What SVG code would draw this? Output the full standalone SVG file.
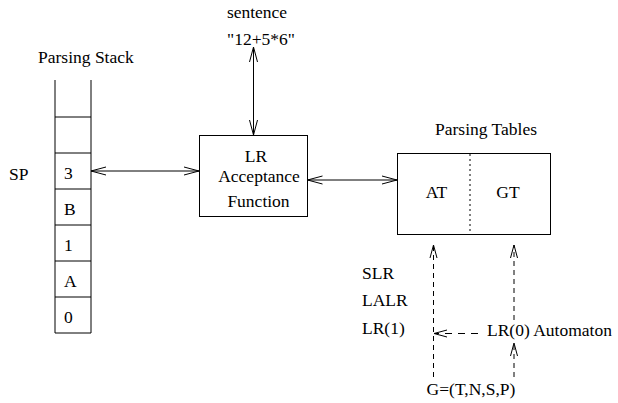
<svg xmlns="http://www.w3.org/2000/svg" width="618" height="403" viewBox="0 0 618 403">
<style>
text{font-family:"Liberation Serif","Times New Roman",serif;font-size:17.5px;fill:#000}
.c{text-anchor:middle}
.ln{stroke:#000;stroke-width:1;fill:none}
.d{stroke-dasharray:5,4}
</style>
<defs>
<marker id="a" markerUnits="userSpaceOnUse" markerWidth="18" markerHeight="12" refX="15" refY="6" orient="auto-start-reverse">
<path d="M0,2 L15,6 L0,10" fill="none" stroke="#000" stroke-width="1"/>
</marker>
<marker id="b" markerUnits="userSpaceOnUse" markerWidth="16" markerHeight="10" refX="13" refY="5" orient="auto-start-reverse">
<path d="M0,1.5 L13,5 L0,8.5" fill="none" stroke="#000" stroke-width="1"/>
</marker>
</defs>
<rect width="618" height="403" fill="#fff"/>
<g id="stack">
<text x="38" y="63">Parsing Stack</text>
<text x="9" y="180">SP</text>
<path class="ln" d="M55,80 V333 H91 V80 M55,117 H91 M55,153 H91 M55,189 H91 M55,225 H91 M55,261 H91 M55,297 H91"/>
<text x="64" y="179">3</text>
<text x="64" y="215">B</text>
<text x="64" y="251">1</text>
<text x="64" y="287">A</text>
<text x="64" y="323">0</text>
</g>
<g id="sentence">
<text class="c" x="257" y="18">sentence</text>
<text class="c" x="261" y="45">"12+5*6"</text>
</g>
<g id="lrfunc">
<rect class="ln" x="199.5" y="135.5" width="108" height="81"/>
<text class="c" x="256" y="161.5">LR</text>
<text class="c" x="259" y="181.5">Acceptance</text>
<text class="c" x="258.5" y="207">Function</text>
</g>
<g id="tables">
<text class="c" x="486" y="135">Parsing Tables</text>
<rect class="ln" x="397.5" y="153.5" width="153" height="81"/>
<line class="ln" x1="470" y1="154" x2="470" y2="234" stroke-dasharray="2,3"/>
<text class="c" x="436.5" y="198">AT</text>
<text class="c" x="508" y="198">GT</text>
</g>
<g id="methods">
<text x="362" y="279">SLR</text>
<text x="362" y="306">LALR</text>
<text x="362" y="334">LR(1)</text>
</g>
<g id="automaton">
<text x="487" y="336">LR(0) Automaton</text>
</g>
<g id="grammar">
<text class="c" x="471" y="395">G=(T,N,S,P)</text>
</g>
<g id="connectors">
<line class="ln" x1="91" y1="171" x2="199" y2="171" marker-start="url(#a)" marker-end="url(#a)"/>
<line class="ln" x1="253.5" y1="47" x2="253.5" y2="135" marker-start="url(#a)" marker-end="url(#a)"/>
<line class="ln" x1="307.5" y1="180" x2="397" y2="180" marker-start="url(#a)" marker-end="url(#a)"/>
<line class="ln d" x1="433.5" y1="377" x2="433.5" y2="245" marker-end="url(#b)"/>
<line class="ln d" x1="514" y1="320" x2="514" y2="245" marker-end="url(#b)"/>
<line class="ln d" x1="514" y1="377" x2="514" y2="343" marker-end="url(#b)"/>
<line class="ln" x1="478" y1="333.5" x2="434" y2="333.5" stroke-dasharray="7,6" marker-end="url(#b)"/>
</g>
</svg>
